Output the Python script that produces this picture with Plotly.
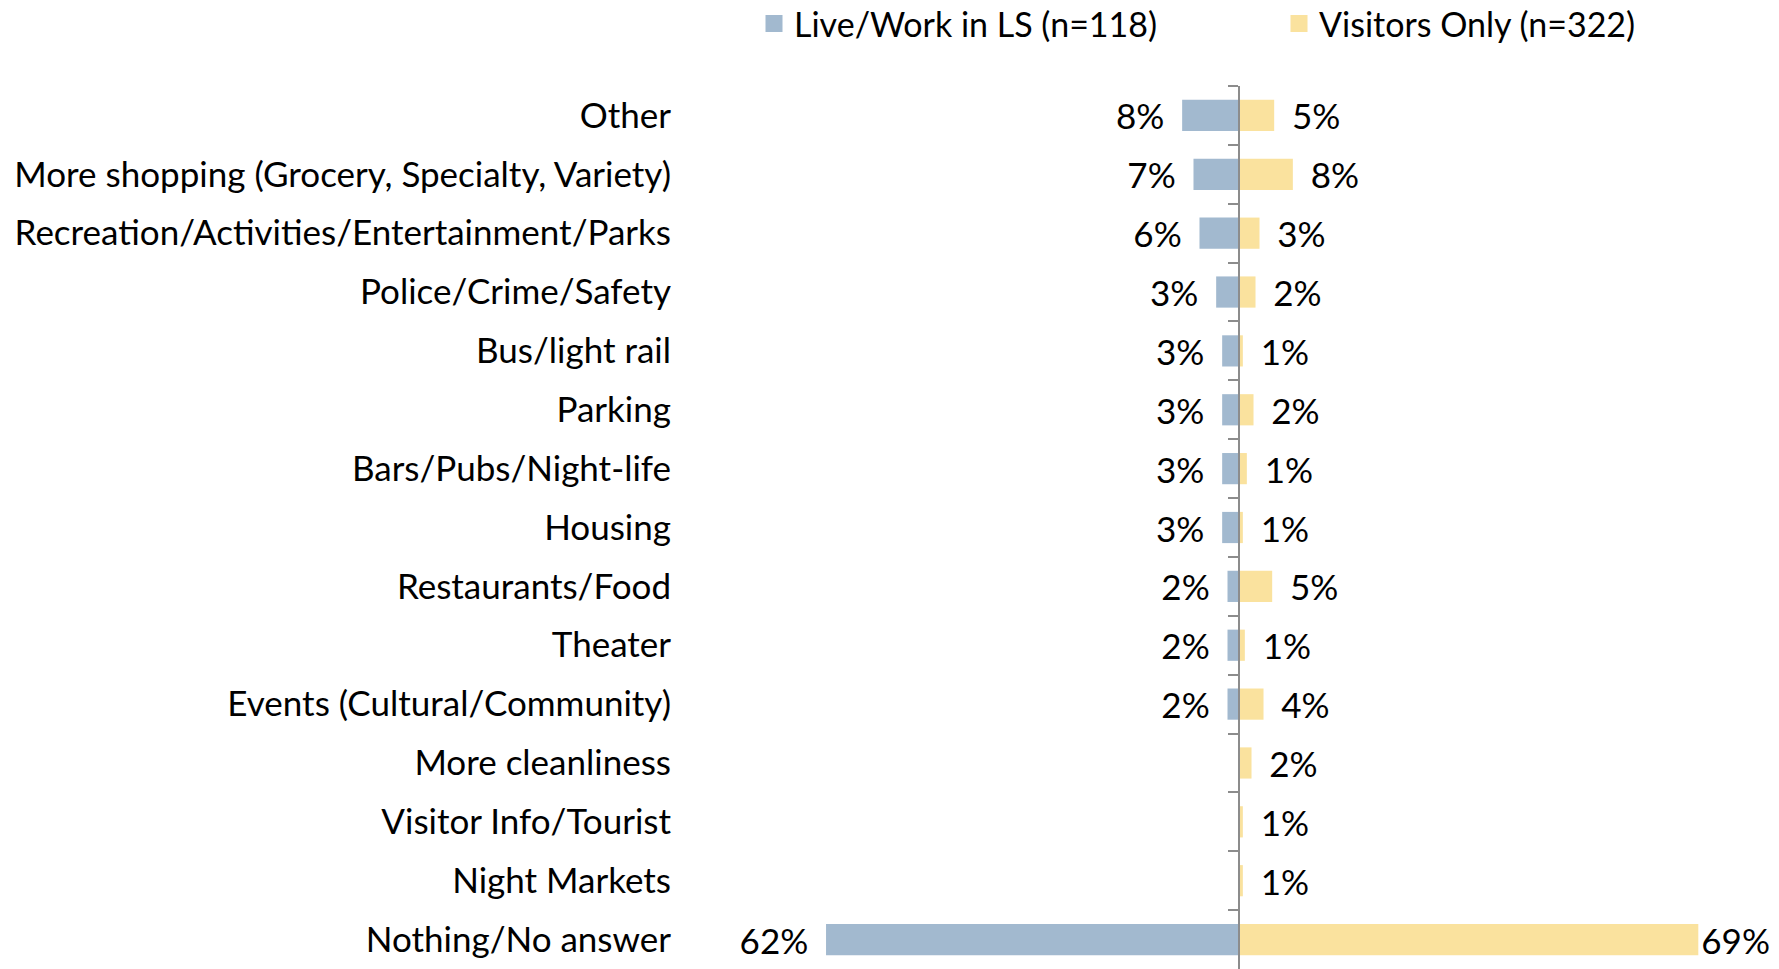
import plotly.graph_objects as go

categories = [
    "Other",
    "More shopping (Grocery, Specialty, Variety)",
    "Recreation/Activities/Entertainment/Parks",
    "Police/Crime/Safety",
    "Bus/light rail",
    "Parking",
    "Bars/Pubs/Night-life",
    "Housing",
    "Restaurants/Food",
    "Theater",
    "Events (Cultural/Community)",
    "More cleanliness",
    "Visitor Info/Tourist",
    "Night Markets",
    "Nothing/No answer",
]
# bar lengths (percent)
live_work = [8.5, 6.8, 5.9, 3.4, 2.5, 2.5, 2.5, 2.5, 1.7, 1.7, 1.7, 0, 0, 0, 61.9]
visitors = [5.3, 8.1, 3.1, 2.5, 0.6, 2.2, 1.2, 0.6, 5.0, 0.9, 3.7, 1.9, 0.6, 0.6, 68.9]
# data labels as printed on the chart
live_work_labels = ["8%", "7%", "6%", "3%", "3%", "3%", "3%", "3%", "2%", "2%", "2%", "", "", "", "62%"]
visitors_labels = ["5%", "8%", "3%", "2%", "1%", "2%", "1%", "1%", "5%", "1%", "4%", "2%", "1%", "1%", "69%"]

series_names = ["Live/Work in LS (n=118)", "Visitors Only (n=322)"]
BLUE = "#A2B9CF"
YELLOW = "#FAE29E"
FONT = "Lato"
FS = 35
PAD = "\u00a0\u2006"

lw_text = [(t + PAD) if t else "" for t in live_work_labels]
vi_text = [("" if v > 50 else PAD) + t if t else "" for t, v in zip(visitors_labels, visitors)]

fig = go.Figure()
fig.add_trace(go.Bar(
    y=categories, x=[-v if v else None for v in live_work], orientation="h",
    name=series_names[0], marker=dict(color=BLUE, line=dict(width=0)),
    text=lw_text, textposition="outside", cliponaxis=False, constraintext="none",
    textfont=dict(family=FONT, size=FS, color="#000000"), hoverinfo="skip",
    showlegend=False, legendgroup="lw",
))
fig.add_trace(go.Bar(
    y=categories, x=[v if v else None for v in visitors], orientation="h",
    name=series_names[1], marker=dict(color=YELLOW, line=dict(width=0)),
    text=vi_text, textposition="outside", cliponaxis=False, constraintext="none",
    textfont=dict(family=FONT, size=FS, color="#000000"), hoverinfo="skip",
    showlegend=False, legendgroup="vi",
))
# legend entries (larger swatches, no data drawn)
for name, col, grp in [(series_names[0], BLUE, "lw"), (series_names[1], YELLOW, "vi")]:
    fig.add_trace(go.Bar(
        y=[categories[0]], x=[None], orientation="h", name=name, legendgroup=grp,
        marker=dict(color=col, line=dict(color=col, width=5)), hoverinfo="skip",
    ))
# invisible trace to establish the central category axis
fig.add_trace(go.Scatter(
    y=categories, x=[0] * len(categories), yaxis="y2", mode="markers",
    marker=dict(opacity=0), showlegend=False, hoverinfo="skip",
))

xmin, xmax = -83.8, 81.0
zero_pos = (0 - xmin) / (xmax - xmin)
yrange = [len(categories) - 0.5, -0.5]

fig.update_layout(
    width=1779, height=969,
    margin=dict(l=680, r=0, t=86, b=0),
    paper_bgcolor="white", plot_bgcolor="white",
    barmode="relative", bargap=0.47,
    font=dict(family=FONT, size=FS, color="#000000"),
    showlegend=True,
    legend=dict(
        orientation="h", xref="container", yref="container",
        x=754 / 1779, y=1 - 24 / 969, xanchor="left", yanchor="middle",
        font=dict(family=FONT, size=34, color="#000000"),
        entrywidth=480, traceorder="normal",
    ),
    xaxis=dict(range=[xmin, xmax], visible=False, showgrid=False, zeroline=False),
    yaxis=dict(
        type="category", categoryorder="array", categoryarray=categories,
        range=yrange, showline=False, ticks="", showgrid=False,
        ticklabelstandoff=8,
        tickfont=dict(family=FONT, size=FS, color="#000000"),
    ),
    yaxis2=dict(
        type="category", categoryorder="array", categoryarray=categories,
        range=yrange, overlaying="y", anchor="free", position=zero_pos,
        side="left", showline=True, linecolor="#8C8C8C", linewidth=2,
        ticks="outside", tickson="boundaries", ticklen=10, tickwidth=2,
        tickcolor="#8C8C8C", showticklabels=False, showgrid=False,
    ),
)

fig.write_html("out.html", config={"displayModeBar": False},
               post_script="document.body.style.margin='0';")
